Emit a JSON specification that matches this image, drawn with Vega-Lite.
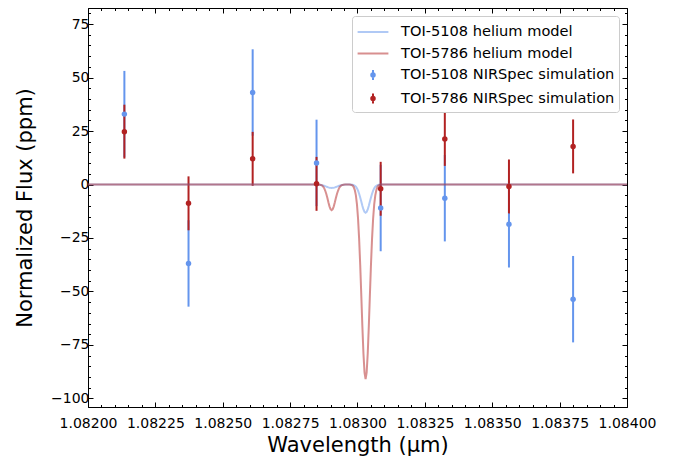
{
  "$schema": "https://vega.github.io/schema/vega-lite/v6.json",
  "width": 539,
  "height": 399,
  "padding": {"left": 88, "top": 8, "right": 56, "bottom": 55},
  "autosize": {"type": "none"},
  "background": "white",
  "config": {
    "view": {"stroke": "black", "strokeWidth": 1},
    "font": "DejaVu Sans",
    "axis": {
      "domain": false,
      "grid": false,
      "labelFont": "DejaVu Sans",
      "labelFontSize": 14,
      "labelColor": "black",
      "tickColor": "black",
      "tickWidth": 1,
      "titleFont": "DejaVu Sans",
      "titleFontSize": 21,
      "titleFontWeight": "normal",
      "titleColor": "black",
      "labelFlush": false,
      "labelOverlap": false,
      "labelBound": false
    },
    "legend": {
      "labelFont": "DejaVu Sans",
      "labelFontSize": 14.6,
      "labelColor": "black",
      "labelLimit": 400
    }
  },
  "datasets": {
    "model": [
      {"wl": 1.082, "TOI-5108 helium model": 0, "TOI-5786 helium model": 0},
      {"wl": 1.0828, "TOI-5108 helium model": 0, "TOI-5786 helium model": 0},
      {"wl": 1.08284, "TOI-5108 helium model": 0, "TOI-5786 helium model": 0},
      {"wl": 1.082848, "TOI-5108 helium model": -0.03, "TOI-5786 helium model": 0},
      {"wl": 1.082852, "TOI-5108 helium model": -0.05, "TOI-5786 helium model": -0.01},
      {"wl": 1.082856, "TOI-5108 helium model": -0.09, "TOI-5786 helium model": -0.03},
      {"wl": 1.08286, "TOI-5108 helium model": -0.14, "TOI-5786 helium model": -0.1},
      {"wl": 1.082864, "TOI-5108 helium model": -0.22, "TOI-5786 helium model": -0.2},
      {"wl": 1.082868, "TOI-5108 helium model": -0.32, "TOI-5786 helium model": -0.4},
      {"wl": 1.082872, "TOI-5108 helium model": -0.44, "TOI-5786 helium model": -0.9},
      {"wl": 1.082876, "TOI-5108 helium model": -0.6, "TOI-5786 helium model": -1.6},
      {"wl": 1.08288, "TOI-5108 helium model": -0.78, "TOI-5786 helium model": -2.8},
      {"wl": 1.082884, "TOI-5108 helium model": -0.97, "TOI-5786 helium model": -4.3},
      {"wl": 1.082888, "TOI-5108 helium model": -1.16, "TOI-5786 helium model": -6.2},
      {"wl": 1.082892, "TOI-5108 helium model": -1.34, "TOI-5786 helium model": -8.3},
      {"wl": 1.082896, "TOI-5108 helium model": -1.48, "TOI-5786 helium model": -10.2},
      {"wl": 1.0829, "TOI-5108 helium model": -1.57, "TOI-5786 helium model": -11.5},
      {"wl": 1.082904, "TOI-5108 helium model": -1.6, "TOI-5786 helium model": -12.0},
      {"wl": 1.082908, "TOI-5108 helium model": -1.57, "TOI-5786 helium model": -11.5},
      {"wl": 1.082912, "TOI-5108 helium model": -1.48, "TOI-5786 helium model": -10.2},
      {"wl": 1.082916, "TOI-5108 helium model": -1.34, "TOI-5786 helium model": -8.3},
      {"wl": 1.08292, "TOI-5108 helium model": -1.16, "TOI-5786 helium model": -6.2},
      {"wl": 1.082924, "TOI-5108 helium model": -0.97, "TOI-5786 helium model": -4.3},
      {"wl": 1.082928, "TOI-5108 helium model": -0.78, "TOI-5786 helium model": -2.8},
      {"wl": 1.082932, "TOI-5108 helium model": -0.6, "TOI-5786 helium model": -1.6},
      {"wl": 1.082936, "TOI-5108 helium model": -0.44, "TOI-5786 helium model": -0.9},
      {"wl": 1.08294, "TOI-5108 helium model": -0.32, "TOI-5786 helium model": -0.4},
      {"wl": 1.082944, "TOI-5108 helium model": -0.22, "TOI-5786 helium model": -0.2},
      {"wl": 1.082948, "TOI-5108 helium model": -0.14, "TOI-5786 helium model": -0.1},
      {"wl": 1.082952, "TOI-5108 helium model": -0.09, "TOI-5786 helium model": -0.03},
      {"wl": 1.082956, "TOI-5108 helium model": -0.05, "TOI-5786 helium model": 0},
      {"wl": 1.08296, "TOI-5108 helium model": -0.03, "TOI-5786 helium model": 0},
      {"wl": 1.08297, "TOI-5108 helium model": -0.01, "TOI-5786 helium model": -0.03},
      {"wl": 1.082974, "TOI-5108 helium model": -0.03, "TOI-5786 helium model": -0.1},
      {"wl": 1.082978, "TOI-5108 helium model": -0.07, "TOI-5786 helium model": -0.2},
      {"wl": 1.082982, "TOI-5108 helium model": -0.15, "TOI-5786 helium model": -0.5},
      {"wl": 1.082986, "TOI-5108 helium model": -0.3, "TOI-5786 helium model": -1.2},
      {"wl": 1.08299, "TOI-5108 helium model": -0.58, "TOI-5786 helium model": -2.6},
      {"wl": 1.082994, "TOI-5108 helium model": -1.05, "TOI-5786 helium model": -5.1},
      {"wl": 1.082998, "TOI-5108 helium model": -1.79, "TOI-5786 helium model": -9.3},
      {"wl": 1.083002, "TOI-5108 helium model": -2.85, "TOI-5786 helium model": -15.9},
      {"wl": 1.083006, "TOI-5108 helium model": -4.29, "TOI-5786 helium model": -25.3},
      {"wl": 1.08301, "TOI-5108 helium model": -6.05, "TOI-5786 helium model": -37.4},
      {"wl": 1.083014, "TOI-5108 helium model": -8.0, "TOI-5786 helium model": -51.5},
      {"wl": 1.083018, "TOI-5108 helium model": -9.97, "TOI-5786 helium model": -66.1},
      {"wl": 1.083022, "TOI-5108 helium model": -11.65, "TOI-5786 helium model": -78.9},
      {"wl": 1.083026, "TOI-5108 helium model": -12.8, "TOI-5786 helium model": -87.8},
      {"wl": 1.08303, "TOI-5108 helium model": -13.2, "TOI-5786 helium model": -91.0},
      {"wl": 1.083034, "TOI-5108 helium model": -12.8, "TOI-5786 helium model": -87.8},
      {"wl": 1.083038, "TOI-5108 helium model": -11.65, "TOI-5786 helium model": -78.9},
      {"wl": 1.083042, "TOI-5108 helium model": -9.97, "TOI-5786 helium model": -66.1},
      {"wl": 1.083046, "TOI-5108 helium model": -8.0, "TOI-5786 helium model": -51.5},
      {"wl": 1.08305, "TOI-5108 helium model": -6.05, "TOI-5786 helium model": -37.4},
      {"wl": 1.083054, "TOI-5108 helium model": -4.29, "TOI-5786 helium model": -25.3},
      {"wl": 1.083058, "TOI-5108 helium model": -2.85, "TOI-5786 helium model": -15.9},
      {"wl": 1.083062, "TOI-5108 helium model": -1.79, "TOI-5786 helium model": -9.3},
      {"wl": 1.083066, "TOI-5108 helium model": -1.05, "TOI-5786 helium model": -5.1},
      {"wl": 1.08307, "TOI-5108 helium model": -0.58, "TOI-5786 helium model": -2.6},
      {"wl": 1.083074, "TOI-5108 helium model": -0.3, "TOI-5786 helium model": -1.2},
      {"wl": 1.083078, "TOI-5108 helium model": -0.15, "TOI-5786 helium model": -0.5},
      {"wl": 1.083082, "TOI-5108 helium model": -0.07, "TOI-5786 helium model": -0.2},
      {"wl": 1.083086, "TOI-5108 helium model": -0.03, "TOI-5786 helium model": -0.1},
      {"wl": 1.08309, "TOI-5108 helium model": 0, "TOI-5786 helium model": 0},
      {"wl": 1.0832, "TOI-5108 helium model": 0, "TOI-5786 helium model": 0},
      {"wl": 1.084, "TOI-5108 helium model": 0, "TOI-5786 helium model": 0}
    ],
    "obs": [
      {"wl": 1.082135, "series": "TOI-5108 NIRSpec simulation", "flux": 32.9, "err": 20.2},
      {"wl": 1.082373, "series": "TOI-5108 NIRSpec simulation", "flux": -36.9, "err": 20.2},
      {"wl": 1.082611, "series": "TOI-5108 NIRSpec simulation", "flux": 43.0, "err": 20.2},
      {"wl": 1.082848, "series": "TOI-5108 NIRSpec simulation", "flux": 10.1, "err": 20.2},
      {"wl": 1.083086, "series": "TOI-5108 NIRSpec simulation", "flux": -11.0, "err": 20.2},
      {"wl": 1.083324, "series": "TOI-5108 NIRSpec simulation", "flux": -6.4, "err": 20.2},
      {"wl": 1.083562, "series": "TOI-5108 NIRSpec simulation", "flux": -18.6, "err": 20.2},
      {"wl": 1.0838, "series": "TOI-5108 NIRSpec simulation", "flux": -53.6, "err": 20.2},
      {"wl": 1.082135, "series": "TOI-5786 NIRSpec simulation", "flux": 24.7, "err": 12.6},
      {"wl": 1.082373, "series": "TOI-5786 NIRSpec simulation", "flux": -8.8, "err": 12.6},
      {"wl": 1.082611, "series": "TOI-5786 NIRSpec simulation", "flux": 12.0, "err": 12.6},
      {"wl": 1.082848, "series": "TOI-5786 NIRSpec simulation", "flux": 0.3, "err": 12.6},
      {"wl": 1.083086, "series": "TOI-5786 NIRSpec simulation", "flux": -2.0, "err": 12.6},
      {"wl": 1.083324, "series": "TOI-5786 NIRSpec simulation", "flux": 21.3, "err": 12.6},
      {"wl": 1.083562, "series": "TOI-5786 NIRSpec simulation", "flux": -0.9, "err": 12.6},
      {"wl": 1.0838, "series": "TOI-5786 NIRSpec simulation", "flux": 17.8, "err": 12.6}
    ]
  },
  "resolve": {"axis": {"x": "independent", "y": "independent"}},
  "layer": [
    {
      "data": {"name": "obs"},
      "transform": [{"filter": "datum.series === 'TOI-5108 NIRSpec simulation'"}],
      "mark": {"type": "errorbar", "thickness": 2, "ticks": false},
      "encoding": {
        "x": {
          "field": "wl", "type": "quantitative",
          "scale": {"domain": [1.082, 1.084], "nice": false, "zero": false},
          "axis": {
            "orient": "bottom", "title": "Wavelength (μm)",
            "values": [1.082, 1.08225, 1.0825, 1.08275, 1.083, 1.08325, 1.0835, 1.08375, 1.084],
            "format": ".5f", "tickSize": -5, "labelPadding": 14, "titlePadding": 4
          }
        },
        "y": {
          "field": "flux", "type": "quantitative",
          "scale": {"domain": [-104, 82.5], "nice": false, "zero": false},
          "axis": {
            "orient": "left", "title": "Normalized Flux (ppm)",
            "values": [-100, -75, -50, -25, 0, 25, 50, 75],
            "tickSize": -5, "labelPadding": 4, "titlePadding": 15
          }
        },
        "yError": {"field": "err"},
        "color": {
          "field": "series", "type": "nominal",
          "scale": {
            "domain": ["TOI-5108 helium model", "TOI-5786 helium model", "TOI-5108 NIRSpec simulation", "TOI-5786 NIRSpec simulation"],
            "range": ["#6495ed", "#b22222", "#6495ed", "#b22222"]
          },
          "legend": {
            "title": null,
            "orient": "top-right",
            "offset": 8,
            "padding": 4,
            "rowPadding": 2.5,
            "symbolSize": 484,
            "symbolOffset": 5,
            "labelOffset": 16,
            "labelLimit": 400,
            "fillColor": "white",
            "strokeColor": "#cccccc",
            "cornerRadius": 3,
            "encode": {
              "symbols": {
                "update": {
                  "shape": {"signal": "indexof(datum.value, 'helium') >= 0 ? 'M-1.4,0L1.4,0' : 'M0,-0.45L0,0.45M-0.16,0A0.16,0.16 0 1,0 0.16,0A0.16,0.16 0 1,0 -0.16,0Z'"},
                  "fill": {"signal": "indexof(datum.value, '5108') >= 0 ? '#6495ed' : '#b22222'"},
                  "stroke": {"signal": "indexof(datum.value, '5108') >= 0 ? '#6495ed' : '#b22222'"},
                  "strokeWidth": {"value": 2},
                  "opacity": {"signal": "indexof(datum.value, 'helium') >= 0 ? 0.5 : 1"}
                }
              }
            }
          }
        }
      }
    },
    {
      "data": {"name": "obs"},
      "transform": [{"filter": "datum.series === 'TOI-5786 NIRSpec simulation'"}],
      "mark": {"type": "errorbar", "thickness": 2, "ticks": false},
      "encoding": {
        "x": {
          "field": "wl", "type": "quantitative",
          "axis": {
            "orient": "top", "title": null, "labels": false,
            "values": [1.082, 1.08225, 1.0825, 1.08275, 1.083, 1.08325, 1.0835, 1.08375, 1.084],
            "tickSize": -5
          }
        },
        "y": {
          "field": "flux", "type": "quantitative",
          "axis": {
            "orient": "right", "title": null, "labels": false,
            "values": [-100, -75, -50, -25, 0, 25, 50, 75],
            "tickSize": -5
          }
        },
        "yError": {"field": "err"},
        "color": {"field": "series", "type": "nominal"}
      }
    },
    {
      "data": {"name": "model"},
      "transform": [{"fold": ["TOI-5108 helium model", "TOI-5786 helium model"], "as": ["series", "flux"]}],
      "mark": {"type": "line", "strokeWidth": 2, "opacity": 0.5, "interpolate": "linear"},
      "encoding": {
        "x": {
          "field": "wl", "type": "quantitative",
          "axis": {
            "orient": "bottom", "title": null, "labels": false, "tickSize": -2.5,
            "values": [1.082, 1.08205, 1.0821, 1.08215, 1.0822, 1.08225, 1.0823, 1.08235, 1.0824, 1.08245, 1.0825, 1.08255, 1.0826, 1.08265, 1.0827, 1.08275, 1.0828, 1.08285, 1.0829, 1.08295, 1.083, 1.08305, 1.0831, 1.08315, 1.0832, 1.08325, 1.0833, 1.08335, 1.0834, 1.08345, 1.0835, 1.08355, 1.0836, 1.08365, 1.0837, 1.08375, 1.0838, 1.08385, 1.0839, 1.08395, 1.084]
          }
        },
        "y": {
          "field": "flux", "type": "quantitative",
          "axis": {
            "orient": "left", "title": null, "labels": false, "tickSize": -2.5,
            "values": [-100, -95, -90, -85, -80, -75, -70, -65, -60, -55, -50, -45, -40, -35, -30, -25, -20, -15, -10, -5, 0, 5, 10, 15, 20, 25, 30, 35, 40, 45, 50, 55, 60, 65, 70, 75, 80]
          }
        },
        "color": {"field": "series", "type": "nominal"},
        "order": {"field": "wl", "type": "quantitative"}
      }
    },
    {
      "data": {"name": "obs"},
      "mark": {"type": "point", "filled": true, "shape": "circle", "size": 30, "opacity": 1},
      "encoding": {
        "x": {
          "field": "wl", "type": "quantitative",
          "axis": {
            "orient": "top", "title": null, "labels": false, "tickSize": -2.5,
            "values": [1.082, 1.08205, 1.0821, 1.08215, 1.0822, 1.08225, 1.0823, 1.08235, 1.0824, 1.08245, 1.0825, 1.08255, 1.0826, 1.08265, 1.0827, 1.08275, 1.0828, 1.08285, 1.0829, 1.08295, 1.083, 1.08305, 1.0831, 1.08315, 1.0832, 1.08325, 1.0833, 1.08335, 1.0834, 1.08345, 1.0835, 1.08355, 1.0836, 1.08365, 1.0837, 1.08375, 1.0838, 1.08385, 1.0839, 1.08395, 1.084]
          }
        },
        "y": {
          "field": "flux", "type": "quantitative",
          "axis": {
            "orient": "right", "title": null, "labels": false, "tickSize": -2.5,
            "values": [-100, -95, -90, -85, -80, -75, -70, -65, -60, -55, -50, -45, -40, -35, -30, -25, -20, -15, -10, -5, 0, 5, 10, 15, 20, 25, 30, 35, 40, 45, 50, 55, 60, 65, 70, 75, 80]
          }
        },
        "color": {"field": "series", "type": "nominal"}
      }
    }
  ]
}
